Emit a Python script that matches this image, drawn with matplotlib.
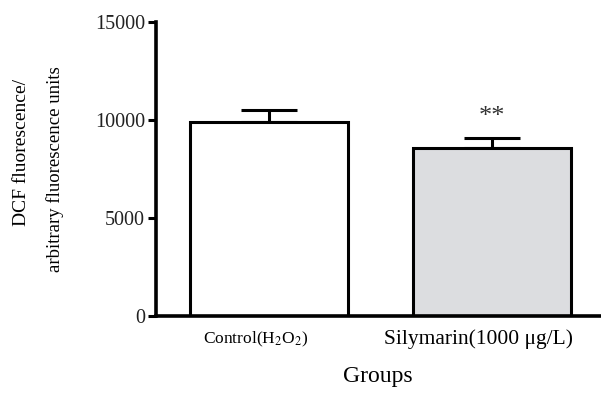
import matplotlib
matplotlib.use("Agg")
import matplotlib.pyplot as plt

plt.rcParams['font.family'] = ['Liberation Serif', 'DejaVu Serif']
plt.rcParams['mathtext.fontset'] = 'stix'

# data
groups = ['Control(H$_2$O$_2$)', 'Silymarin(1000 μg/L)']
label_sizes = [12.5, 15.5]
means = [9900, 8570]
errors = [620, 500]
fills = ['white', '#dcdde0']
yticks = [0, 5000, 10000, 15000]

fig = plt.figure(figsize=(6.01, 3.94), dpi=100)
ax = fig.add_axes([0.2596, 0.198, 0.739, 0.746])

x = list(range(len(groups)))
ax.bar(x, means, width=0.71, color=fills, edgecolor='black', linewidth=2.2, zorder=2)
ax.errorbar(x, means, yerr=[[0, 0], errors], fmt='none', ecolor='black',
            elinewidth=2.2, capsize=20, capthick=2.2, zorder=1)

ax.text(1, 10150, '**', ha='center', va='center', fontsize=19, color='#333333')

ax.set_xlim(-0.507, 1.484)
ax.set_ylim(0, 15000)
ax.set_yticks(yticks)
ax.set_yticklabels([str(v) for v in yticks], fontsize=14.5, color='#222222')
ax.set_xticks([])

# group labels sit a little left of the bar centres in the original
for xi, name, fs in zip(x, groups, label_sizes):
    ax.text(xi - 0.06, -0.08, name, transform=ax.get_xaxis_transform(),
            ha='center', va='center', fontsize=fs)

ax.tick_params(axis='y', length=6, width=2.2, pad=2)

for side in ['top', 'right']:
    ax.spines[side].set_visible(False)
for side in ['left', 'bottom']:
    ax.spines[side].set_linewidth(2.6)

ax.set_xlabel('Groups', fontsize=17, labelpad=36)

fig.text(22 / 601, 1 - 153 / 394, 'DCF fluorescence/', rotation=90,
         ha='center', va='center', fontsize=14)
fig.text(55 / 601, 1 - 169 / 394, 'arbitrary fluorescence units', rotation=90,
         ha='center', va='center', fontsize=13.5)

plt.savefig('out.png', dpi=100)
